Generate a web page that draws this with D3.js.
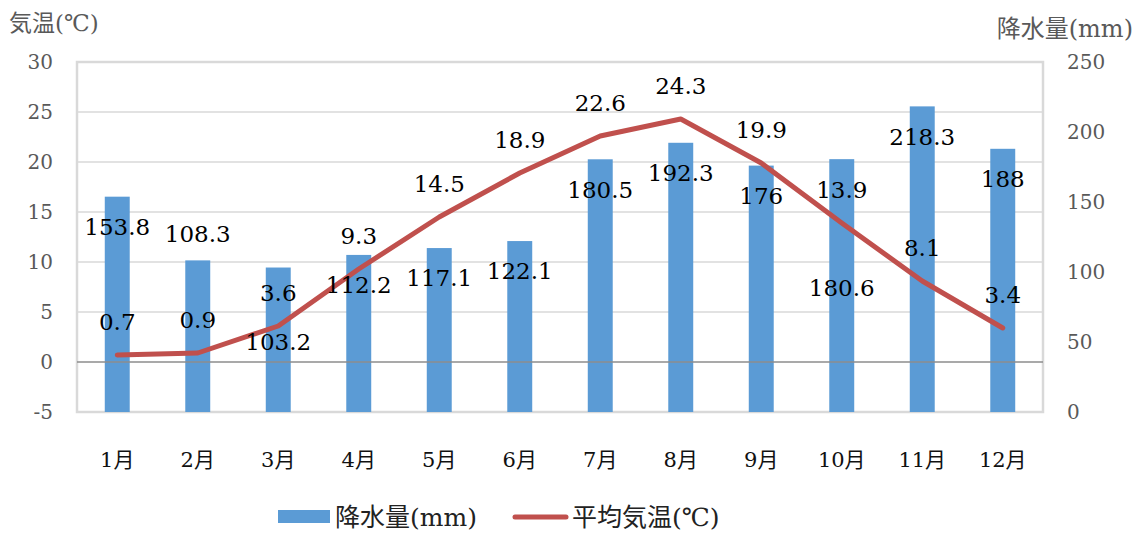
<!DOCTYPE html>
<html lang="ja">
<head>
<meta charset="utf-8">
<script src="https://cdn.jsdelivr.net/npm/d3@7/dist/d3.min.js"></script>
<style>
  html, body { margin: 0; padding: 0; background: #fff; }
  svg { display: block; }
  text { font-family: "DejaVu Serif", "Noto Sans CJK JP", serif; }
</style>
</head>
<body>
<svg id="chart" width="1147" height="534"></svg>
<script>
// Monthly climate data
const months = ["1月", "2月", "3月", "4月", "5月", "6月", "7月", "8月", "9月", "10月", "11月", "12月"];
const precipitation = [153.8, 108.3, 103.2, 112.2, 117.1, 122.1, 180.5, 192.3, 176, 180.6, 218.3, 188];
const temperature = [0.7, 0.9, 3.6, 9.3, 14.5, 18.9, 22.6, 24.3, 19.9, 13.9, 8.1, 3.4];
const tempTicks = [-5, 0, 5, 10, 15, 20, 25, 30];
const precipTicks = [0, 50, 100, 150, 200, 250];

// Hand-placed precipitation labels (vertical nudge in px from the inside-end spot)
const precipLabelNudge = [0, -57, 44, 0, 0, 0, 0, 0, 0, 99, 0, 0];

const svg = d3.select("#chart");
const plot = { left: 77, right: 1043, top: 62, bottom: 412 };

const x = d3.scaleBand().domain(months).range([plot.left, plot.right]).padding(0);
const yT = d3.scaleLinear().domain([-5, 30]).range([plot.bottom, plot.top]);
const yP = d3.scaleLinear().domain([0, 250]).range([plot.bottom, plot.top]);
const barW = x.bandwidth() * 0.31;
const cx = m => x(m) + x.bandwidth() / 2;

const grid = "#d9d9d9";

// Horizontal gridlines
svg.append("g").selectAll("line")
  .data(tempTicks.filter(t => t !== 0 && t !== -5 && t !== 30))
  .join("line")
  .attr("x1", plot.left).attr("x2", plot.right)
  .attr("y1", d => yT(d)).attr("y2", d => yT(d))
  .attr("stroke", grid).attr("stroke-width", 1.5);

// Plot frame
svg.append("rect")
  .attr("x", plot.left).attr("y", plot.top)
  .attr("width", plot.right - plot.left).attr("height", plot.bottom - plot.top)
  .attr("fill", "none").attr("stroke", grid).attr("stroke-width", 2.5);

// Precipitation bars
svg.append("g").selectAll("rect")
  .data(precipitation)
  .join("rect")
  .attr("x", (d, i) => cx(months[i]) - barW / 2)
  .attr("width", barW)
  .attr("y", d => yP(d))
  .attr("height", d => yP(0) - yP(d))
  .attr("fill", "#5B9BD5");

// Zero line of the temperature axis
svg.append("line")
  .attr("x1", plot.left).attr("x2", plot.right)
  .attr("y1", yT(0)).attr("y2", yT(0))
  .attr("stroke", "#8c8c8c").attr("stroke-width", 1.6);

// Temperature line
const line = d3.line()
  .x((d, i) => cx(months[i]))
  .y(d => yT(d));
svg.append("path")
  .datum(temperature)
  .attr("d", line)
  .attr("fill", "none")
  .attr("stroke", "#C0504D")
  .attr("stroke-width", 5)
  .attr("stroke-linejoin", "round")
  .attr("stroke-linecap", "round");

// Plain integer tick text with an ASCII hyphen for negatives
const plain = d => String(d);

// Left axis
const leftAxis = svg.append("g")
  .attr("transform", `translate(${plot.left - 24},0)`)
  .call(d3.axisLeft(yT).tickValues(tempTicks).tickSize(0).tickPadding(0).tickFormat(plain));
leftAxis.select(".domain").remove();
leftAxis.selectAll("text")
  .attr("font-size", 20).attr("fill", "#595959")
  .style("font-family", "'DejaVu Serif', serif");

// Right axis
const rightAxis = svg.append("g")
  .attr("transform", `translate(${plot.right + 24},0)`)
  .call(d3.axisRight(yP).tickValues(precipTicks).tickSize(0).tickPadding(0).tickFormat(plain));
rightAxis.select(".domain").remove();
rightAxis.selectAll("text")
  .attr("font-size", 20).attr("fill", "#595959")
  .style("font-family", "'DejaVu Serif', serif");

// Month labels
const bottomAxis = svg.append("g")
  .attr("transform", `translate(0,${plot.bottom + 40})`)
  .call(d3.axisBottom(x).tickSize(0).tickPadding(0));
bottomAxis.select(".domain").remove();
bottomAxis.selectAll("text")
  .attr("font-size", 21).attr("fill", "#111")
  .style("font-family", "'DejaVu Serif', 'Noto Sans CJK JP', serif");

// Axis titles
svg.append("text")
  .attr("x", 9).attr("y", 31)
  .attr("font-size", 23).attr("fill", "#595959")
  .text("気温(℃)");
svg.append("text")
  .attr("x", 1133).attr("y", 37)
  .attr("text-anchor", "end")
  .attr("font-size", 24).attr("fill", "#595959")
  .text("降水量(mm)");

// Precipitation value labels (inside end of each bar)
svg.append("g").selectAll("text")
  .data(precipitation)
  .join("text")
  .attr("x", (d, i) => cx(months[i]))
  .attr("y", (d, i) => yP(d) + 30 + precipLabelNudge[i])
  .attr("dy", "0.36em")
  .attr("text-anchor", "middle")
  .attr("font-size", 23).attr("fill", "#000")
  .text(d => d);

// Temperature value labels (above each point)
svg.append("g").selectAll("text")
  .data(temperature)
  .join("text")
  .attr("x", (d, i) => cx(months[i]))
  .attr("y", d => yT(d) - 33)
  .attr("dy", "0.36em")
  .attr("text-anchor", "middle")
  .attr("font-size", 23).attr("fill", "#000")
  .text(d => d);

// Legend
const legend = svg.append("g");
legend.append("rect")
  .attr("x", 278).attr("y", 510).attr("width", 52).attr("height", 13)
  .attr("fill", "#5B9BD5");
legend.append("text")
  .attr("x", 335).attr("y", 526)
  .attr("font-size", 25).attr("fill", "#222")
  .text("降水量(mm)");
legend.append("line")
  .attr("x1", 515).attr("x2", 566).attr("y1", 517).attr("y2", 517)
  .attr("stroke", "#C0504D").attr("stroke-width", 5).attr("stroke-linecap", "round");
legend.append("text")
  .attr("x", 572).attr("y", 526)
  .attr("font-size", 25).attr("fill", "#222")
  .text("平均気温(℃)");
</script>
</body>
</html>
